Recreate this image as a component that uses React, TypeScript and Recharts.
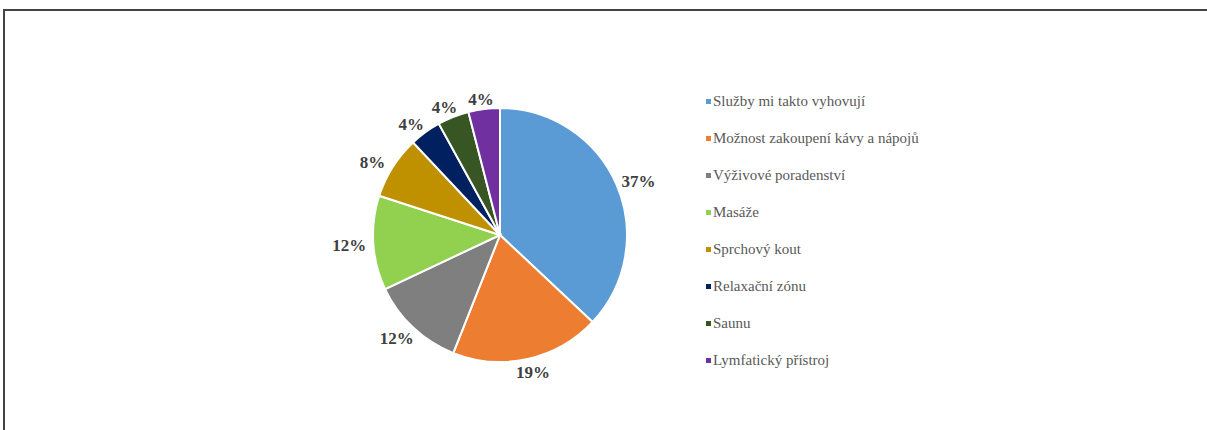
import React from 'react';
import { PieChart, Pie, Cell, Legend } from 'recharts';

const categories = [
  'Služby mi takto vyhovují',
  'Možnost zakoupení kávy a nápojů',
  'Výživové poradenství',
  'Masáže',
  'Sprchový kout',
  'Relaxační zónu',
  'Saunu',
  'Lymfatický přístroj',
];
const shares = [37, 19, 12, 12, 8, 4, 4, 4];
const colors = ['#5B9BD5', '#ED7D31', '#7F7F7F', '#92D050', '#BF9000', '#002060', '#375623', '#7030A0'];

const chartData = categories.map((name, i) => ({ name, value: shares[i] }));

const RADIAN = Math.PI / 180;
const SERIF = 'Liberation Serif, DejaVu Serif, serif';

const renderLabel = (props: any) => {
  const { cx, cy, midAngle, outerRadius, value } = props;
  const s = Math.cos(-midAngle * RADIAN);
  const c = Math.sin(-midAngle * RADIAN);
  const x = cx + (outerRadius + 6) * s + s * 18;
  const y = cy + (outerRadius + 6) * c + c * 6 + 2;
  return (
    <text
      x={x}
      y={y}
      fill="#404040"
      textAnchor="middle"
      dominantBaseline="central"
      style={{ fontFamily: SERIF, fontWeight: 'bold', fontSize: 17 }}
    >
      {`${value}%`}
    </text>
  );
};

const LegendContent = () => (
  <div style={{ fontFamily: SERIF, fontSize: 15, color: '#595959' }}>
    {categories.map((name, i) => (
      <div key={name} style={{ display: 'flex', alignItems: 'center', height: 37 }}>
        <span style={{ width: 5, height: 5, background: colors[i], marginRight: 2 }} />
        <span>{name}</span>
      </div>
    ))}
  </div>
);

const App: React.FC = () => {
  return (
    <div style={{ position: 'relative', width: 1207, height: 430, background: '#fff', overflow: 'hidden' }}>
      <style>{`body{margin:0}`}</style>
      <div style={{ position: 'absolute', left: 3, top: 9, right: 0, height: 2, background: '#444' }} />
      <div style={{ position: 'absolute', left: 3, top: 9, bottom: 0, width: 2, background: '#444' }} />
      <PieChart width={1207} height={430} margin={{ top: 0, right: 0, bottom: 0, left: 0 }}>
        <Pie
          data={chartData}
          dataKey="value"
          nameKey="name"
          cx={500}
          cy={235}
          outerRadius={127}
          startAngle={90}
          endAngle={-270}
          stroke="#ffffff"
          strokeWidth={2}
          label={renderLabel}
          labelLine={false}
          isAnimationActive={false}
        >
          {chartData.map((d, i) => (
            <Cell key={d.name} fill={colors[i]} />
          ))}
        </Pie>
        <Legend
          content={<LegendContent />}
          layout="vertical"
          wrapperStyle={{ position: 'absolute', left: 706, top: 83, width: 300 }}
        />
      </PieChart>
    </div>
  );
};

export default App;
